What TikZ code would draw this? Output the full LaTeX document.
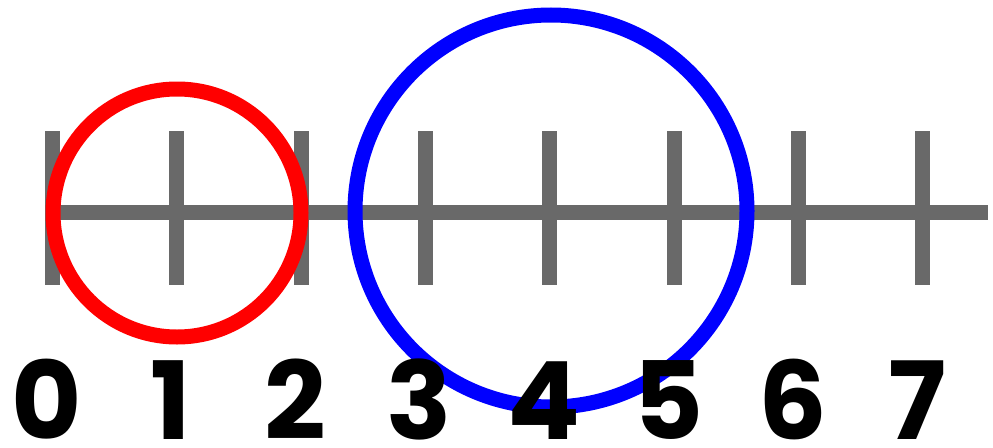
\documentclass[tikz,border=0pt]{standalone}
\usepackage{fontspec}
\newfontfamily\digitfont{Poppins}
\definecolor{axisgray}{HTML}{696969}
\definecolor{cred}{HTML}{FF0000}
\definecolor{cblue}{HTML}{0000FF}
\tikzset{
  axisline/.style={draw=axisgray, line width=15pt},
  tickmark/.style={draw=axisgray, line width=15pt},
  ring/.style={line width=15pt},
  digit/.style={anchor=base, inner sep=0pt, text depth=0pt, font=\digitfont\bfseries\fontsize{108}{108}\selectfont, text=black}
}
\begin{document}
\begin{tikzpicture}[x=1pt,y=-1pt]
\useasboundingbox (0,0) rectangle (993,447);
\coordinate (La) at (45,212);
\coordinate (Lb) at (988,212);
\draw[axisline] (La) -- (Lb);
\foreach \i in {0,...,7} {
  \coordinate (t\i a) at ({52.5+\i*124.35},131);
  \coordinate (t\i b) at ({52.5+\i*124.35},285);
  \draw[tickmark] (t\i a) -- (t\i b);
}
\node[draw=cred, ring, circle, minimum size=248pt, inner sep=0pt] (red) at (177,213) {};
\node[draw=cblue, ring, circle, minimum size=392pt, inner sep=0pt] (blue) at (551,211) {};
\foreach \i in {0,...,7} {
  \node[digit] (d\i) at ({46.5+\i*124.35},439.5) {\i};
}
\end{tikzpicture}
\end{document}
